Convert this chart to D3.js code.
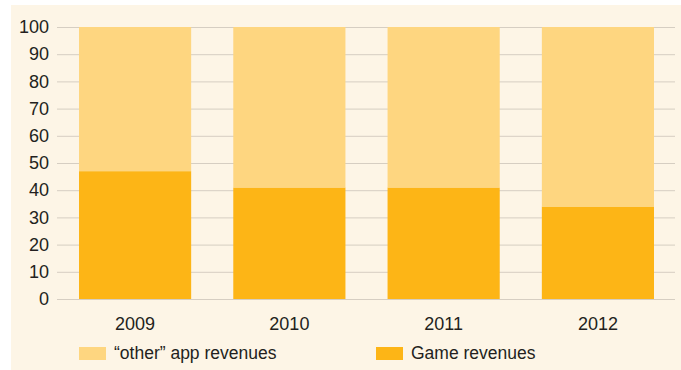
<!DOCTYPE html>
<html>
<head>
<meta charset="utf-8">
<script src="https://cdn.jsdelivr.net/npm/d3@7"></script>
<style>
  html, body { margin: 0; padding: 0; background: #ffffff; }
  svg { display: block; }
  text { font-family: "Liberation Sans", Arial, sans-serif; fill: #231f20; }
</style>
</head>
<body>
<svg id="chart" width="681" height="370"></svg>
<script>
// Share of app revenues, in percent
const years = ["2009", "2010", "2011", "2012"];
const gameRevenues = [47, 41, 41, 34];
const otherRevenues = [53, 59, 59, 66];
const yTicks = [0, 10, 20, 30, 40, 50, 60, 70, 80, 90, 100];
const seriesNames = ["\u201cother\u201d app revenues", "Game revenues"];
const seriesColors = ["#fed680", "#fdb516"];

const svg = d3.select("#chart");

// Cream panel
svg.append("rect")
  .attr("x", 11).attr("y", 5)
  .attr("width", 670).attr("height", 365)
  .attr("fill", "#fdf5e6");

const x = d3.scaleBand().domain(years).range([79, 654]).paddingInner(0.273).paddingOuter(0);
const y = d3.scaleLinear().domain([0, 100]).range([299, 27]);

// Horizontal grid with value labels
const gridLeft = 57, gridRight = 675;
const yAxis = svg.append("g")
  .attr("transform", `translate(${gridLeft},0)`)
  .call(d3.axisLeft(y).tickValues(yTicks).tickSize(-(gridRight - gridLeft)).tickPadding(8).tickFormat(d3.format("d")));
yAxis.select(".domain").remove();
yAxis.selectAll(".tick line").attr("stroke", "#d6cec2").attr("stroke-width", 1);
yAxis.selectAll(".tick text").attr("font-size", 18).attr("fill", "#231f20");

// Stacked bars
const rows = years.map((yr, i) => ({ year: yr, game: gameRevenues[i], other: otherRevenues[i] }));
const stack = d3.stack().keys(["game", "other"])(rows);
const colorByKey = { game: seriesColors[1], other: seriesColors[0] };

svg.append("g").selectAll("g")
  .data(stack)
  .join("g")
  .attr("fill", d => colorByKey[d.key])
  .selectAll("rect")
  .data(d => d)
  .join("rect")
  .attr("x", d => x(d.data.year))
  .attr("width", x.bandwidth())
  .attr("y", d => y(d[1]))
  .attr("height", d => y(d[0]) - y(d[1]));

// Year labels
const xAxis = svg.append("g")
  .attr("transform", `translate(0,${y(0)})`)
  .call(d3.axisBottom(x).tickSize(0).tickPadding(18));
xAxis.select(".domain").remove();
xAxis.selectAll(".tick text").attr("font-size", 18).attr("fill", "#231f20");

// Legend
const legendX = [79, 376];
const legend = svg.append("g").selectAll("g")
  .data(seriesNames)
  .join("g")
  .attr("transform", (d, i) => `translate(${legendX[i]},347)`);
legend.append("rect")
  .attr("width", 27).attr("height", 13)
  .attr("fill", (d, i) => seriesColors[i]);
legend.append("text")
  .attr("x", 35).attr("y", 12)
  .attr("font-size", 17.5)
  .text(d => d);
</script>
</body>
</html>
